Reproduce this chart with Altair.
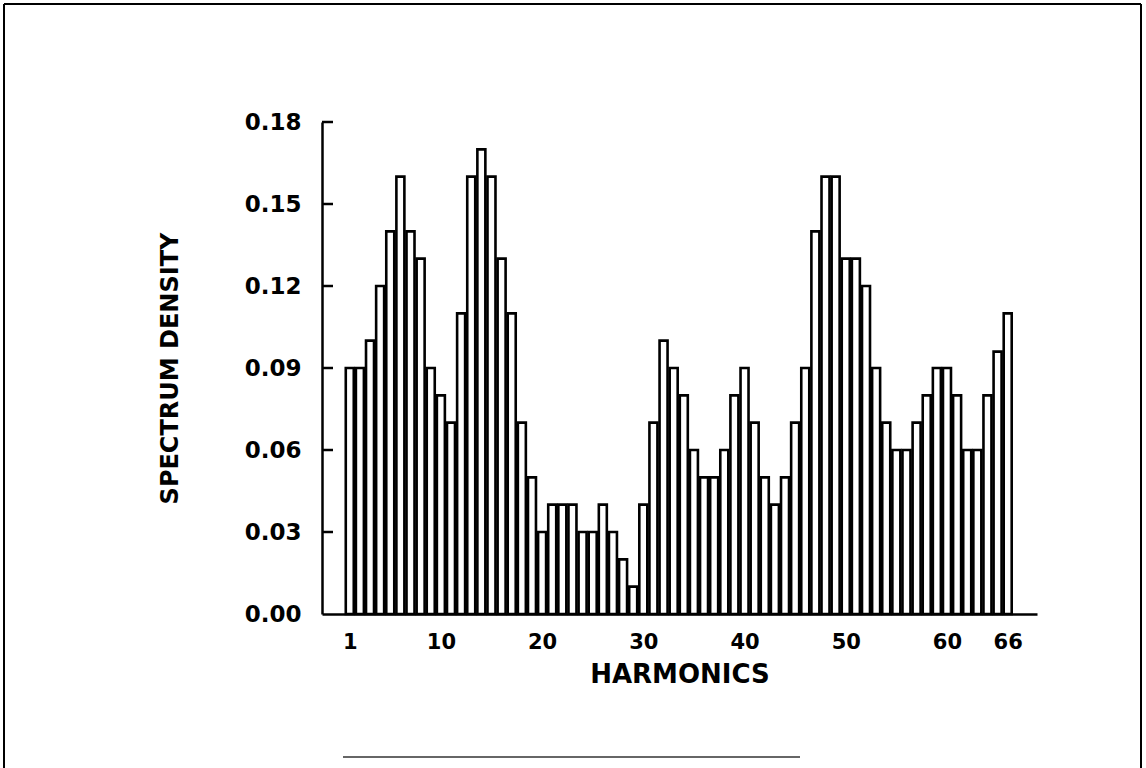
import altair as alt
import pandas as pd

harmonics = list(range(1, 67))
density = [
    0.09, 0.09, 0.10, 0.12, 0.14, 0.16, 0.14, 0.13, 0.09, 0.08,
    0.07, 0.11, 0.16, 0.17, 0.16, 0.13, 0.11, 0.07, 0.05, 0.03,
    0.04, 0.04, 0.04, 0.03, 0.03, 0.04, 0.03, 0.02, 0.01, 0.04,
    0.07, 0.10, 0.09, 0.08, 0.06, 0.05, 0.05, 0.06, 0.08, 0.09,
    0.07, 0.05, 0.04, 0.05, 0.07, 0.09, 0.14, 0.16, 0.16, 0.13,
    0.13, 0.12, 0.09, 0.07, 0.06, 0.06, 0.07, 0.08, 0.09, 0.09,
    0.08, 0.06, 0.06, 0.08, 0.096, 0.11,
]
x_tick_labels = [1, 10, 20, 30, 40, 50, 60, 66]
y_tick_values = [0.00, 0.03, 0.06, 0.09, 0.12, 0.15, 0.18]
inner_ticks = [0.03, 0.06, 0.09, 0.12, 0.15, 0.18]

df = pd.DataFrame({"harmonic": harmonics, "density": density})
ticks_df = pd.DataFrame({"v": inner_ticks})

FONT = "DejaVu Sans"
W, H = 715, 492

x_scale = alt.Scale(domain=[-1.25, 68.4], nice=False, zero=False)
y_scale = alt.Scale(domain=[0, 0.18], nice=False)

bars = alt.Chart(df).mark_bar(
    fill="white", stroke="black", strokeWidth=2.6, size=8
).encode(
    x=alt.X("harmonic:Q", scale=x_scale,
            axis=alt.Axis(values=x_tick_labels, ticks=False, grid=False,
                          title="HARMONICS", labelPadding=17,
                          labelFont=FONT, labelFontSize=21, labelFontWeight="bold",
                          labelColor="black", titleFont=FONT, titleFontSize=26,
                          titleFontWeight="bold", titleColor="black", titlePadding=9,
                          domainColor="black", domainWidth=2.5, labelFlush=False)),
    y=alt.Y("density:Q", scale=y_scale,
            axis=alt.Axis(values=y_tick_values, format=".2f", ticks=False, grid=False,
                          title="SPECTRUM  DENSITY", labelPadding=21,
                          labelFont=FONT, labelFontSize=23, labelFontWeight="bold",
                          labelColor="black", titleFont=FONT, titleFontSize=24,
                          titleFontWeight="bold", titleColor="black", titlePadding=62,
                          domainColor="black", domainWidth=2.5, labelFlush=False)),
)

inward_ticks = alt.Chart(ticks_df).mark_rule(color="black", strokeWidth=2.5).encode(
    y=alt.Y("v:Q", scale=y_scale),
    x=alt.value(0),
    x2=alt.value(11),
)

one = alt.Data(values=[{"k": 1}])
frame_style = dict(color="black", strokeWidth=2)
left = alt.Chart(one).mark_rule(**frame_style).encode(
    x=alt.value(-318), y=alt.value(-118), y2=alt.value(646))
top = alt.Chart(one).mark_rule(**frame_style).encode(
    x=alt.value(-318), x2=alt.value(819), y=alt.value(-118))
right = alt.Chart(one).mark_rule(**frame_style).encode(
    x=alt.value(819), y=alt.value(-118), y2=alt.value(646))
bottom = alt.Chart(one).mark_rule(color="#333333", strokeWidth=1.5).encode(
    x=alt.value(21), x2=alt.value(478), y=alt.value(635))

chart = alt.layer(bars, inward_ticks, left, top, right, bottom).properties(
    width=W, height=H,
    padding={"left": 322, "top": 122, "right": 1146 - 322 - W, "bottom": 768 - 122 - H},
    autosize=alt.AutoSizeParams(type="none"),
    background="white",
).configure_view(strokeWidth=0)

chart.save("out.html", embed_options={"renderer": "svg", "actions": False})
